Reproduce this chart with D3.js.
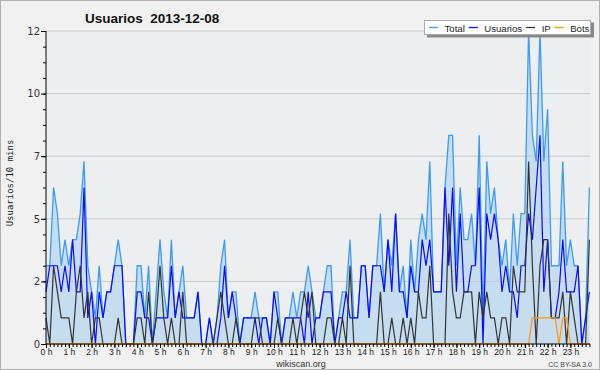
<!DOCTYPE html>
<html>
<head>
<meta charset="utf-8">
<script src="https://cdn.jsdelivr.net/npm/d3@7"></script>
<style>
  body { margin: 0; background: #fff; }
  svg { display: block; font-family: "Liberation Sans", Arial, sans-serif; }
</style>
</head>
<body>
<svg id="chart" width="600" height="370"></svg>
<script>
// values per 10 minutes, 00:00 -> 23:50
const total = [3,3,6,5,3,4,3,4,4,5, 7,3,2,1,3,1,2,2,3,4, 3,0,0,0,3,3,1,3,0,2,
  4,2,1,4,1,2,3,1,1,1, 2,0,0,1,0,1,3,4,1,2, 2,0,1,1,1,2,1,1,1,0,
  2,2,0,1,1,2,1,2,2,3, 2,1,1,2,3,3,0,1,2,2, 4,1,1,3,3,1,3,3,5,2,
  4,3,5,2,3,1,4,2,4,5, 4,7,2,2,2,6,8,8,3,6, 4,4,5,3,8,1,7,5,6,4,
  3,4,2,5,3,5,5,12,8,7, 12,7,9,3,3,3,7,3,4,3, 3,0,1,6];
const usuarios = [2,3,3,3,2,3,2,4,2,2, 6,1,2,0,2,1,2,2,3,3, 3,0,0,0,2,2,1,1,0,1,
  1,1,1,3,1,2,1,1,1,1, 2,0,0,1,0,0,1,3,1,2, 1,0,1,1,1,1,0,1,1,0,
  2,1,0,1,1,1,1,1,0,2, 0,1,1,2,2,2,0,1,1,2, 1,1,1,3,3,1,3,3,3,2,
  4,2,5,2,2,1,3,2,2,4, 3,4,2,2,2,6,3,6,2,5, 2,2,3,3,6,0,5,4,5,4,
  2,3,2,2,1,3,3,5,4,6, 8,2,4,1,1,2,4,2,2,2, 3,0,1,2];
const ip = [1,0,3,2,1,1,1,0,2,3, 1,2,0,1,1,0,0,0,0,1, 0,0,0,0,1,1,0,2,0,1,
  3,1,0,1,0,0,2,0,0,0, 0,0,0,0,0,1,2,1,0,0, 1,0,0,0,0,1,1,0,0,0,
  0,1,0,0,0,1,0,1,2,1, 2,0,0,0,1,1,0,0,1,0, 3,0,0,0,0,0,0,0,2,0,
  0,1,0,0,1,0,1,0,2,1, 1,3,0,0,0,0,5,2,1,1, 2,2,2,0,2,1,2,1,1,0,
  1,1,0,3,2,2,2,7,3,0, 3,4,4,1,1,1,2,0,2,1, 0,0,0,4];
const bots = [0,0,0,0,0,0,0,0,0,0, 0,0,0,0,0,0,0,0,0,0, 0,0,0,0,0,0,0,0,0,0,
  0,0,0,0,0,0,0,0,0,0, 0,0,0,0,0,0,0,0,0,0, 0,0,0,0,0,0,0,0,0,0,
  0,0,0,0,0,0,0,0,0,0, 0,0,0,0,0,0,0,0,0,0, 0,0,0,0,0,0,0,0,0,0,
  0,0,0,0,0,0,0,0,0,0, 0,0,0,0,0,0,0,0,0,0, 0,0,0,0,0,0,0,0,0,0,
  0,0,0,0,0,0,0,0,1,1, 1,1,1,1,1,0,1,1,0,0, 0,0,0,0];

const hourLabels = ['0 h','1 h','2 h','3 h','4 h','5 h','6 h','7 h','8 h','9 h','10 h','11 h',
  '12 h','13 h','14 h','15 h','16 h','17 h','18 h','19 h','20 h','21 h','22 h','23 h'];
const yTicks = [0, 2.4, 4.8, 7.2, 9.6, 12];
const yTickLabels = ['0', '2', '5', '7', '10', '12'];

const series = [
  { name: 'Total', values: total, color: '#3a9cf5', width: 1.3 },
  { name: 'Usuarios', values: usuarios, color: '#0a0aff', width: 1.2 },
  { name: 'IP', values: ip, color: '#333333', width: 1.2 },
  { name: 'Bots', values: bots, color: '#ff9a10', width: 1.3 }
];

const svg = d3.select('#chart');
const plot = { left: 46, right: 590, top: 31, bottom: 344 };

svg.append('rect').attr('x', 0.5).attr('y', 0.5).attr('width', 599).attr('height', 369)
  .attr('fill', '#f1f1f1').attr('stroke', '#b0b0b0');
svg.append('rect').attr('x', plot.left).attr('y', plot.top)
  .attr('width', plot.right - plot.left).attr('height', plot.bottom - plot.top)
  .attr('fill', '#eceef0');

// minutes since midnight -> px
const x = d3.scaleLinear().domain([0, 1440]).range([plot.left, plot.left + 547.2]);
const y = d3.scaleLinear().domain([0, 12]).range([plot.bottom, plot.top]);
const xi = (d, i) => x(i * 10);

svg.append('path')
  .datum(total)
  .attr('fill', '#c6ddf0')
  .attr('d', d3.area().x(xi).y0(y(0)).y1(d => y(d)));

svg.append('g')
  .selectAll('line')
  .data(yTicks.slice(1))
  .enter().append('line')
  .attr('x1', plot.left).attr('x2', plot.right)
  .attr('y1', d => y(d)).attr('y2', d => y(d))
  .attr('stroke', '#cbcbcb').attr('stroke-width', 1);

const line = d3.line().x(xi).y(d => y(d));
series.forEach(s => {
  svg.append('path')
    .datum(s.values)
    .attr('fill', 'none')
    .attr('stroke', s.color)
    .attr('stroke-width', s.width)
    .attr('d', line);
});

// y axis
const yMinor = d3.range(0, 12.01, 0.6);
const yAxis = svg.append('g').attr('transform', `translate(${plot.left},0)`);
yAxis.call(d3.axisLeft(y).tickValues(yMinor).tickSize(3).tickFormat(''));
yAxis.select('.domain').remove();
const yMajor = svg.append('g').attr('transform', `translate(${plot.left},0)`)
  .call(d3.axisLeft(y).tickValues(yTicks).tickSize(5).tickPadding(1)
    .tickFormat((d, i) => yTickLabels[i]));
yMajor.select('.domain').remove();
yMajor.selectAll('text').attr('font-family', '"DejaVu Sans", sans-serif')
  .attr('font-size', 10).attr('fill', '#333');

// x axis
const xMinor = d3.range(0, 1440, 10);
const xAxis = svg.append('g').attr('transform', `translate(0,${plot.bottom})`);
xAxis.call(d3.axisBottom(x).tickValues(xMinor).tickSize(3).tickFormat(''));
xAxis.select('.domain').remove();
const xMajor = svg.append('g').attr('transform', `translate(0,${plot.bottom})`)
  .call(d3.axisBottom(x).tickValues(d3.range(24).map(h => h * 60)).tickSize(4).tickPadding(1)
    .tickFormat((d, i) => hourLabels[i]));
xMajor.select('.domain').remove();
xMajor.selectAll('text').attr('font-size', 8.5).attr('fill', '#222');

svg.append('line').attr('x1', plot.left).attr('x2', plot.left)
  .attr('y1', plot.top).attr('y2', plot.bottom + 0.5).attr('stroke', '#000');
svg.append('line').attr('x1', plot.left).attr('x2', plot.right)
  .attr('y1', plot.bottom).attr('y2', plot.bottom).attr('stroke', '#000');

// titles
svg.append('text')
  .attr('x', 85).attr('y', 23)
  .attr('font-size', 13.5).attr('font-weight', 'bold').attr('fill', '#111')
  .style('white-space', 'pre')
  .text('Usuarios  2013-12-08');

svg.append('text')
  .attr('transform', 'translate(13,183) rotate(-90)')
  .attr('text-anchor', 'middle')
  .attr('font-family', '"DejaVu Sans Mono", monospace')
  .attr('font-size', 9).attr('fill', '#222')
  .text('Usuarios/10 mins');

svg.append('text').attr('x', 301).attr('y', 366.5).attr('text-anchor', 'middle')
  .attr('font-size', 9).attr('fill', '#333').text('wikiscan.org');
svg.append('text').attr('x', 592).attr('y', 366.5).attr('text-anchor', 'end')
  .attr('font-size', 7).attr('fill', '#444').text('CC BY-SA 3.0');

// legend
const legend = svg.append('g');
legend.append('rect').attr('x', 427).attr('y', 22.5).attr('width', 167).attr('height', 15).attr('fill', '#888');
legend.append('rect').attr('x', 424.5).attr('y', 20.5).attr('width', 166).attr('height', 14)
  .attr('fill', '#fff').attr('stroke', '#aaa');
let lx = 429;
series.forEach(s => {
  legend.append('line').attr('x1', lx).attr('x2', lx + 9).attr('y1', 27.5).attr('y2', 27.5)
    .attr('stroke', s.color).attr('stroke-width', 1.3);
  const t = legend.append('text').attr('x', lx + 15.5).attr('y', 31.5)
    .attr('font-size', 9.6).attr('fill', '#222').text(s.name);
  lx += 15.5 + t.node().getComputedTextLength() + 4;
});
</script>
</body>
</html>
